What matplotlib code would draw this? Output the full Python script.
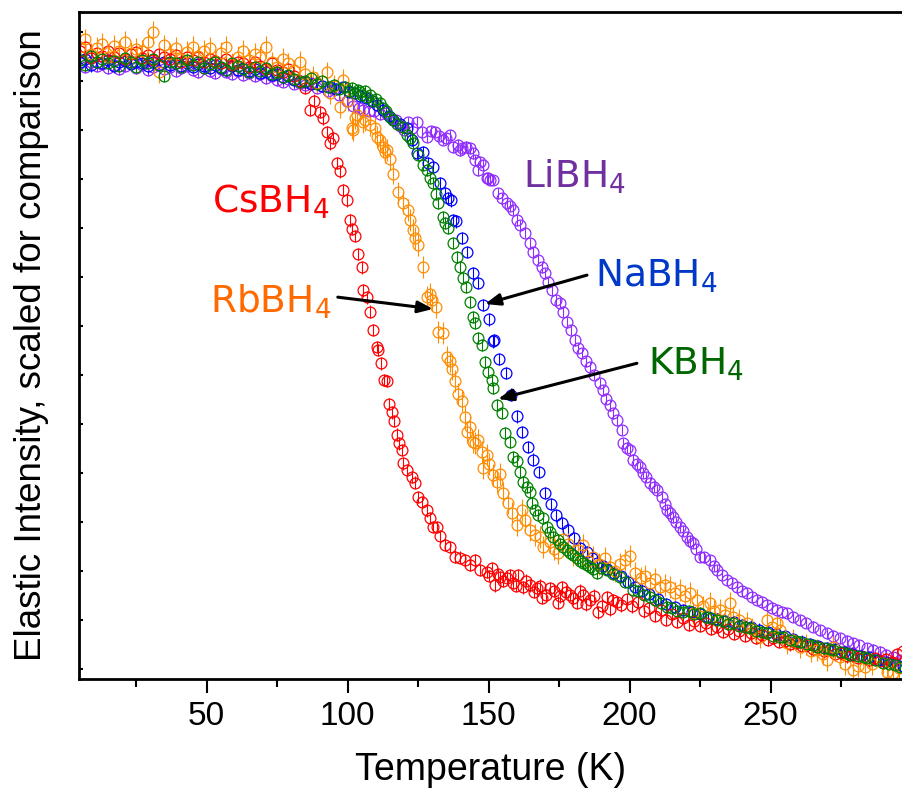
import numpy as np
import matplotlib
matplotlib.use("Agg")
import matplotlib.pyplot as plt

# temperatures shared by every sample below 85 K
t_low = [5, 7, 9, 11, 13, 15, 17, 19, 21, 23, 25, 27, 29, 31, 33, 35, 37, 39, 41, 43,
         45, 47, 49, 51, 53, 55, 57, 59, 61, 63, 65, 67, 69, 71, 73, 75, 77, 79, 81, 83]

# CsBH4
cs_low = [1.262, 1.270, 1.248, 1.258, 1.252, 1.262, 1.250, 1.257, 1.246, 1.255, 1.260, 1.248, 1.254, 1.244,
          1.256, 1.250, 1.246, 1.253, 1.240, 1.249, 1.244, 1.250, 1.238, 1.246, 1.241, 1.236, 1.245, 1.232,
          1.240, 1.236, 1.228, 1.238, 1.230, 1.225, 1.236, 1.222, 1.218, 1.224, 1.210, 1.200]
cs_t = [85, 86.6, 88, 90.2, 91.3, 92.7, 93.7, 94.8, 96.2, 97.3, 98.4, 99.8, 100.8, 101.5, 102.6, 103.7,
        105.1, 105.5, 106.9, 107.9, 109.0, 110.4, 110.7, 111.8, 112.9, 113.9, 114.6, 115.7, 116.4, 117.5,
        118.2, 119.3, 119.7, 121.0, 122.8, 123.9, 125.0, 126.4, 128.1, 129.2, 130.2, 131.7, 132.7, 134.5,
        136.3, 138.1, 139.8, 141.6, 143.4, 145.1, 146.9, 149.4, 151.2, 152.3, 154.0, 156.5, 158.7, 160.5,
        162.2, 164.7, 167.2, 169.0, 171.8, 174.6, 176.0, 178.9, 181.3, 183.5, 185.9, 188.7, 192.0, 194.2,
        197, 199, 201, 203, 205, 207, 209, 211, 213, 215, 217, 219, 221, 223, 225, 227, 229, 231, 233, 235,
        237, 239, 241, 243, 245, 247, 249, 251, 253, 255, 257, 259, 261, 263, 265, 267, 269, 271, 273, 275,
        277, 279, 281, 283, 285, 287, 289, 291, 293, 295, 297,
        # extra points on the 150-195 K shoulder
        150.3, 153.2, 155.2, 157.5, 159.6, 163.4, 166.0, 168.1, 170.4, 173.2, 175.3, 177.5, 180.1, 182.4,
        184.7, 187.3, 190.3, 193.1, 195.4]
cs_i = [1.186, 1.141, 1.160, 1.137, 1.124, 1.096, 1.073, 1.084, 1.033, 1.016, 0.978, 0.957, 0.916, 0.898,
        0.884, 0.847, 0.820, 0.773, 0.759, 0.729, 0.692, 0.657, 0.651, 0.624, 0.590, 0.588, 0.541, 0.524,
        0.506, 0.478, 0.461, 0.447, 0.420, 0.406, 0.392, 0.380, 0.351, 0.341, 0.324, 0.308, 0.290, 0.290,
        0.271, 0.253, 0.249, 0.229, 0.227, 0.222, 0.212, 0.222, 0.202, 0.198, 0.206, 0.171, 0.188, 0.186,
        0.176, 0.192, 0.167, 0.171, 0.165, 0.145, 0.165, 0.135, 0.167, 0.151, 0.135, 0.151, 0.141, 0.116,
        0.147, 0.141,
        0.130, 0.142, 0.128, 0.136, 0.118, 0.124, 0.108, 0.120, 0.100, 0.112, 0.096, 0.104, 0.090, 0.098,
        0.088, 0.094, 0.082, 0.086, 0.076, 0.082, 0.072, 0.078, 0.068, 0.074, 0.064, 0.070, 0.060, 0.064,
        0.056, 0.058, 0.050, 0.054, 0.046, 0.048, 0.040, 0.044, 0.036, 0.038, 0.030, 0.032, 0.026, 0.028,
        0.022, 0.024, 0.018, 0.022, 0.016, 0.020, 0.014, 0.030, 0.036,
        0.190, 0.194, 0.180, 0.192, 0.170, 0.180, 0.158, 0.170, 0.152, 0.160, 0.148, 0.158, 0.144, 0.160,
        0.132, 0.150, 0.128, 0.122, 0.136]

# RbBH4
rb_low = [1.270, 1.285, 1.255, 1.268, 1.276, 1.250, 1.272, 1.262, 1.280, 1.258, 1.266, 1.262, 1.280, 1.300,
          1.218, 1.273, 1.255, 1.268, 1.246, 1.260, 1.270, 1.252, 1.262, 1.268, 1.240, 1.258, 1.270, 1.236,
          1.250, 1.262, 1.244, 1.256, 1.249, 1.270, 1.238, 1.228, 1.246, 1.236, 1.222, 1.240]
rb_t = [85, 87.7, 89, 92.6, 93.7, 95, 97.3, 98.4, 100, 101.5, 102.0, 102.6, 103.3, 105.5, 106.2, 107.9,
        109.7, 110.4, 111.5, 112.5, 113.3, 113.9, 115, 116.2, 117.9, 119.7, 121.4, 122.1, 123.2, 123.9,
        125.0, 126.8, 128.1, 129.2, 129.9, 131.3, 132.0, 133.8, 135.2, 136.3, 137.0, 138.1, 139.1, 140.5,
        141.5, 142.3, 143.4, 144.5, 145.1, 146.3, 147.6, 148.0, 149.5, 150.3, 151.5, 153.0, 154.0, 155.0,
        156.8, 158.3, 160.0, 161.8, 162.8, 164.6, 166.4, 168.2, 169.3, 171.8, 173.2, 174.6, 176.4, 178.2,
        180.0, 181.8, 183.5, 185.3, 187.0, 189.0, 191.3, 193.0, 195.0, 196.6, 198.4, 200.2, 202.0, 204.0,
        205.5, 207.3, 209.0, 210.7, 212.5, 214.2, 216.0, 217.8, 219.5, 221.3, 222.5, 223.8, 226.0, 228.4,
        230.0, 232.0, 234.0, 235.6, 236.7, 239.0, 241.6, 243.5, 246.2, 248.7, 250.5, 252.2, 253.3, 255.8,
        258.0, 260.4, 262.5, 264.5, 266.4, 268.5, 270.0, 272.1, 274.5, 276.5, 279.2, 281.0, 283.5, 286.0,
        289.8, 291.2, 293.4, 295.5]
rb_i = [1.214, 1.208, 1.196, 1.218, 1.176, 1.190, 1.147, 1.202, 1.160, 1.104, 1.100, 1.124, 1.131, 1.116,
        1.120, 1.110, 1.104, 1.086, 1.080, 1.065, 1.055, 1.059, 1.040, 1.011, 0.973, 0.951, 0.937, 0.916,
        0.896, 0.880, 0.865, 0.820, 0.759, 0.765, 0.753, 0.739, 0.688, 0.686, 0.637, 0.628, 0.612, 0.588,
        0.562, 0.547, 0.514, 0.484, 0.494, 0.463, 0.461, 0.468, 0.443, 0.410, 0.437, 0.418, 0.396, 0.382,
        0.398, 0.359, 0.339, 0.318, 0.294, 0.324, 0.304, 0.284, 0.273, 0.269, 0.249, 0.259, 0.245, 0.237,
        0.265, 0.255, 0.233, 0.243, 0.253, 0.220, 0.229, 0.214, 0.227, 0.208, 0.200, 0.214, 0.222, 0.231,
        0.196, 0.186, 0.190, 0.176, 0.184, 0.167, 0.172, 0.167, 0.155, 0.161, 0.149, 0.155, 0.114, 0.141,
        0.128, 0.135, 0.118, 0.120, 0.110, 0.135, 0.106, 0.100, 0.094, 0.082, 0.065, 0.100, 0.085, 0.094,
        0.080, 0.053, 0.060, 0.045, 0.050, 0.036, 0.039, 0.030, 0.018, 0.045, 0.024, 0.010, -0.002, 0.006,
        0.004, 0.010, 0.012, -0.006, -0.008, 0.002]

# NaBH4
na_low = [1.238, 1.246, 1.232, 1.240, 1.236, 1.244, 1.230, 1.238, 1.242, 1.234, 1.240, 1.236, 1.230, 1.238,
          1.233, 1.240, 1.232, 1.236, 1.230, 1.237, 1.228, 1.234, 1.230, 1.226, 1.232, 1.227, 1.223, 1.230,
          1.222, 1.226, 1.220, 1.224, 1.216, 1.219, 1.212, 1.214, 1.208, 1.210, 1.202, 1.200]
na_t = [85, 87, 89, 91, 93.8, 96, 98.4, 100.5, 102.5, 104.5, 106.5, 108.5, 110.5, 112.5, 114.5, 116.2,
        118.5, 121.0, 122.8, 124.6, 126.8, 128.5, 130.3, 132.8, 134.5, 135.6, 136.6, 137.4, 138.4, 140.5,
        142.3, 144.4, 146.2, 148.0, 150.1, 151.5, 152.0, 153.7, 156.1, 158.0, 160.0, 161.8, 163.9, 165.7,
        167.9, 170.0, 172.1, 173.9, 176.0, 178.2, 180.3, 182.4, 184.9, 186.5, 188.4, 190.5, 192.0, 194.5,
        197.0, 199.5, 202.0, 204.5, 207.0, 210.0, 213.0, 216.0, 219.0, 222.0, 225.0, 228.0, 231.0, 234.0,
        237.0, 240.0, 243.0, 246.0, 249.0, 252.0, 255.0, 258.0, 261.0, 264.0, 267.0, 270.0, 273.0, 276.0,
        279.0, 282.0, 285.0, 288.0, 291.0, 294.0, 297.0]
na_i = [1.198, 1.194, 1.196, 1.190, 1.188, 1.184, 1.188, 1.178, 1.176, 1.170, 1.166, 1.160, 1.152, 1.142,
        1.128, 1.120, 1.112, 1.104, 1.080, 1.053, 1.055, 1.033, 1.024, 0.992, 0.971, 0.961, 0.957, 0.916,
        0.914, 0.880, 0.851, 0.808, 0.788, 0.743, 0.714, 0.669, 0.671, 0.633, 0.604, 0.560, 0.516, 0.484,
        0.453, 0.427, 0.402, 0.359, 0.337, 0.314, 0.298, 0.284, 0.267, 0.247, 0.239, 0.226, 0.216, 0.210,
        0.205, 0.196, 0.190, 0.178, 0.168, 0.160, 0.153, 0.142, 0.132, 0.126, 0.120, 0.116, 0.112, 0.106,
        0.102, 0.098, 0.095, 0.090, 0.086, 0.080, 0.076, 0.071, 0.067, 0.061, 0.056, 0.051, 0.047, 0.043,
        0.040, 0.035, 0.031, 0.027, 0.024, 0.019, 0.014, 0.010, 0.006]

# KBH4
k_low = [1.244, 1.232, 1.252, 1.238, 1.246, 1.236, 1.242, 1.230, 1.248, 1.238, 1.228, 1.244, 1.236, 1.246,
         1.232, 1.210, 1.240, 1.236, 1.228, 1.244, 1.232, 1.238, 1.226, 1.234, 1.240, 1.228, 1.222, 1.236,
         1.230, 1.224, 1.218, 1.228, 1.220, 1.226, 1.214, 1.218, 1.208, 1.212, 1.204, 1.198]
k_t = [85, 87, 89, 91, 93, 95, 97, 99, 100.5, 101.5, 102.5, 103.5, 104.4, 105.2, 106, 107, 107.9, 109,
       110, 111.5, 112.5, 113.5, 115.0, 116.2, 117.5, 119.7, 121.0, 122.0, 123.2, 125.0, 126.8, 128.1,
       129.2, 130.3, 131.2, 132.0, 133.8, 134.7, 135.6, 137.4, 138.8, 139.8, 140.9, 141.9, 143.4, 144.5,
       145.1, 146.2, 147.6, 148.7, 149.7, 151.2, 151.5, 153.0, 154.7, 155.8, 157.6, 158.7, 160.0, 161.1,
       162.2, 163.5, 164.7, 165.4, 166.5, 167.5, 169.3, 170.7, 171.8, 172.8, 174.6, 175.5, 176.4, 177.7,
       178.9, 180.0, 181.3, 182.5, 183.5, 184.8, 185.9, 187.0, 188.4, 190.0, 192.0, 194.0, 196.6, 198.5,
       201.2, 203.0, 205.0, 207.3, 209.0, 211.0, 213.3, 215.0, 217.0, 219.0, 221.0, 223.0, 225.0, 227.0,
       229.0, 231.0, 233.0, 235.0, 236.7, 239.0, 241.0, 242.7, 245.0, 247.0, 248.7, 251.0, 253.0, 254.4,
       257.0, 259.0, 260.4, 263.0, 265.0, 266.4, 269.0, 271.0, 272.1, 275.0, 277.0, 278.1, 281.0, 283.0,
       284.1, 287.0, 289.8, 292.0, 294.0, 295.8]
k_i = [1.200, 1.206, 1.194, 1.200, 1.188, 1.192, 1.184, 1.188, 1.180, 1.186, 1.176, 1.182, 1.178, 1.172,
       1.180, 1.168, 1.171, 1.160, 1.164, 1.155, 1.146, 1.138, 1.127, 1.120, 1.112, 1.106, 1.090, 1.084,
       1.073, 1.049, 1.028, 1.018, 1.002, 0.992, 0.970, 0.951, 0.922, 0.910, 0.900, 0.869, 0.841, 0.820,
       0.798, 0.780, 0.749, 0.718, 0.706, 0.676, 0.661, 0.627, 0.606, 0.590, 0.573, 0.539, 0.522, 0.482,
       0.463, 0.433, 0.425, 0.402, 0.382, 0.372, 0.361, 0.339, 0.325, 0.314, 0.308, 0.290, 0.280, 0.269,
       0.263, 0.255, 0.249, 0.243, 0.237, 0.232, 0.227, 0.221, 0.216, 0.212, 0.208, 0.204, 0.196, 0.206,
       0.202, 0.194, 0.188, 0.178, 0.161, 0.160, 0.152, 0.147, 0.140, 0.134, 0.127, 0.124, 0.119, 0.116,
       0.118, 0.112, 0.114, 0.106, 0.104, 0.100, 0.098, 0.092, 0.094, 0.088, 0.086, 0.084, 0.078, 0.076,
       0.073, 0.068, 0.066, 0.065, 0.060, 0.058, 0.055, 0.050, 0.048, 0.045, 0.042, 0.040, 0.039, 0.034,
       0.032, 0.029, 0.026, 0.024, 0.022, 0.018, 0.012, 0.010, 0.008, 0.004]

# LiBH4
li_low = [1.236, 1.228, 1.240, 1.230, 1.234, 1.226, 1.232, 1.224, 1.230, 1.236, 1.226, 1.232, 1.222, 1.229,
          1.234, 1.224, 1.228, 1.220, 1.226, 1.230, 1.222, 1.218, 1.226, 1.220, 1.216, 1.224, 1.218, 1.214,
          1.220, 1.212, 1.216, 1.210, 1.214, 1.206, 1.210, 1.202, 1.198, 1.204, 1.194, 1.196]
li_t = [85, 87, 89, 91, 93, 95, 97, 99.8, 102, 104, 105.5, 107.5, 109.5, 111.5, 113.5, 115.5, 117.0,
        118.6, 120.0, 121.4, 123.0, 124.6, 126.5, 128.1, 129.5, 131.0, 132.5, 133.8, 135.0, 136.3, 137.4,
        139.0, 139.8, 140.5, 142.0, 143.4, 144.5, 145.1, 146.2, 146.9, 148.0, 149.3, 149.7, 150.5, 151.5,
        153.3, 154.7, 156.5, 157.5, 158.7, 160.0, 161.1, 162.8, 164.6, 165.7, 167.5, 168.9, 170.0, 171.1,
        172.5, 173.9, 175.3, 176.4, 177.8, 179.2, 180.6, 181.7, 183.0, 184.5, 185.9, 187.5, 189.5, 190.6,
        191.8, 193.0, 194.2, 195.5, 197.3, 197.7, 199.0, 200.2, 201.2, 202.5, 203.6, 204.8, 206.0, 207.3,
        208.5, 209.7, 211.5, 212.5, 213.3, 214.5, 215.4, 216.6, 217.8, 219.0, 220.3, 221.5, 222.4, 223.6,
        224.9, 226.5, 228.4, 229.8, 231.0, 232.8, 234.5, 236.3, 238.0, 239.8, 241.6, 243.4, 245.1, 246.9,
        248.7, 250.5, 252.2, 254.0, 255.8, 258.0, 260.4, 262.5, 265.0, 267.5, 270.0, 272.2, 274.5, 277.0,
        279.2, 281.5, 284.1, 286.5, 288.7, 291.0, 293.4, 295.8]
li_i = [1.192, 1.196, 1.186, 1.190, 1.180, 1.184, 1.172, 1.160, 1.150, 1.146, 1.141, 1.138, 1.140, 1.132,
        1.134, 1.124, 1.120, 1.108, 1.100, 1.116, 1.104, 1.116, 1.096, 1.086, 1.098, 1.096, 1.088, 1.080,
        1.084, 1.090, 1.065, 1.070, 1.059, 1.063, 1.066, 1.063, 1.053, 1.039, 1.018, 1.035, 1.029, 1.002,
        1.002, 0.998, 0.998, 0.971, 0.961, 0.951, 0.945, 0.937, 0.916, 0.906, 0.890, 0.869, 0.851, 0.835,
        0.820, 0.808, 0.790, 0.773, 0.753, 0.747, 0.729, 0.708, 0.692, 0.671, 0.655, 0.645, 0.628, 0.616,
        0.600, 0.584, 0.569, 0.552, 0.538, 0.522, 0.508, 0.488, 0.461, 0.452, 0.447, 0.427, 0.418, 0.412,
        0.400, 0.392, 0.380, 0.372, 0.365, 0.351, 0.336, 0.324, 0.318, 0.310, 0.300, 0.290, 0.282, 0.269,
        0.262, 0.257, 0.245, 0.229, 0.228, 0.222, 0.210, 0.202, 0.192, 0.182, 0.175, 0.167, 0.160, 0.155,
        0.147, 0.141, 0.136, 0.131, 0.125, 0.120, 0.116, 0.114, 0.106, 0.100, 0.094, 0.086, 0.079, 0.073,
        0.068, 0.063, 0.058, 0.053, 0.048, 0.043, 0.039, 0.035, 0.029, 0.024, 0.018]

fig = plt.figure(figsize=(9.03, 7.92), dpi=100)
ax = fig.add_axes([0.0875, 0.1427, 0.9125, 0.8421])

# (temperatures, intensities, error, marker colour) - drawn back to front
series = [
    (li_t, li_i, 0.011, "#8f2bff"),
    (na_t, na_i, 0.013, "#0000ff"),
    (cs_t, cs_i, 0.013, "#ff0000"),
    (rb_t, rb_i, 0.022, "#ff8c00"),
    (k_t, k_i, 0.012, "#008000"),
]
lows = [li_low, na_low, cs_low, rb_low, k_low]
for (t, y, err, c), low in zip(series, lows):
    tt = np.concatenate([t_low, t])
    yy = np.concatenate([low, y])
    ax.errorbar(tt, yy, yerr=err, fmt="o", ms=7.8, mfc="none", mec=c, mew=0.9,
                ecolor=c, elinewidth=0.8, capsize=0)

ax.set_xlim(4.7, 297)
ax.set_ylim(-0.0204, 1.341)

ax.set_xticks([50, 100, 150, 200, 250])
ax.set_xticks([25, 75, 125, 175, 225, 275], minor=True)
ax.set_yticks(np.arange(0, 1.35, 0.1))
ax.set_yticklabels([])
ax.tick_params(axis="x", which="major", direction="out", length=10, width=1.5,
               labelsize=24, pad=6)
ax.tick_params(axis="x", which="minor", direction="out", length=6, width=1.5)
ax.tick_params(axis="y", which="major", direction="in", length=3, width=1.5)
for lab in ax.get_xticklabels():
    lab.set_fontfamily("Liberation Sans")

for s in ["left", "bottom", "top"]:
    ax.spines[s].set_linewidth(2)
ax.spines["right"].set_visible(False)

ax.set_xlabel("Temperature (K)", fontsize=27, family="Liberation Sans", labelpad=14)
ax.set_ylabel("Elastic Intensity, scaled for comparison", fontsize=26.5,
              family="Liberation Sans", labelpad=18)

# sample labels
lab_kw = dict(fontsize=27, ha="left", va="baseline")
ax.text(51.9, 0.931, "CsBH$_4$", color="#ff0000", **lab_kw)
ax.text(51.2, 0.727, "RbBH$_4$", color="#ff6a00", **lab_kw)
ax.text(162.2, 0.982, "LiBH$_4$", color="#7030a0", **lab_kw)
ax.text(187.7, 0.780, "NaBH$_4$", color="#0038c8", **lab_kw)
ax.text(206.5, 0.600, "KBH$_4$", color="#006600", **lab_kw)

arr = dict(arrowstyle="-|>,head_length=0.9,head_width=0.35", color="black", lw=2.2,
           shrinkA=0, shrinkB=0)
ax.annotate("", xy=(130.3, 0.735), xytext=(96.5, 0.759), arrowprops=arr)
ax.annotate("", xy=(148.7, 0.745), xytext=(184.9, 0.804), arrowprops=arr)
ax.annotate("", xy=(153.3, 0.551), xytext=(202.6, 0.624), arrowprops=arr)

fig.savefig("out.png", dpi=100)
